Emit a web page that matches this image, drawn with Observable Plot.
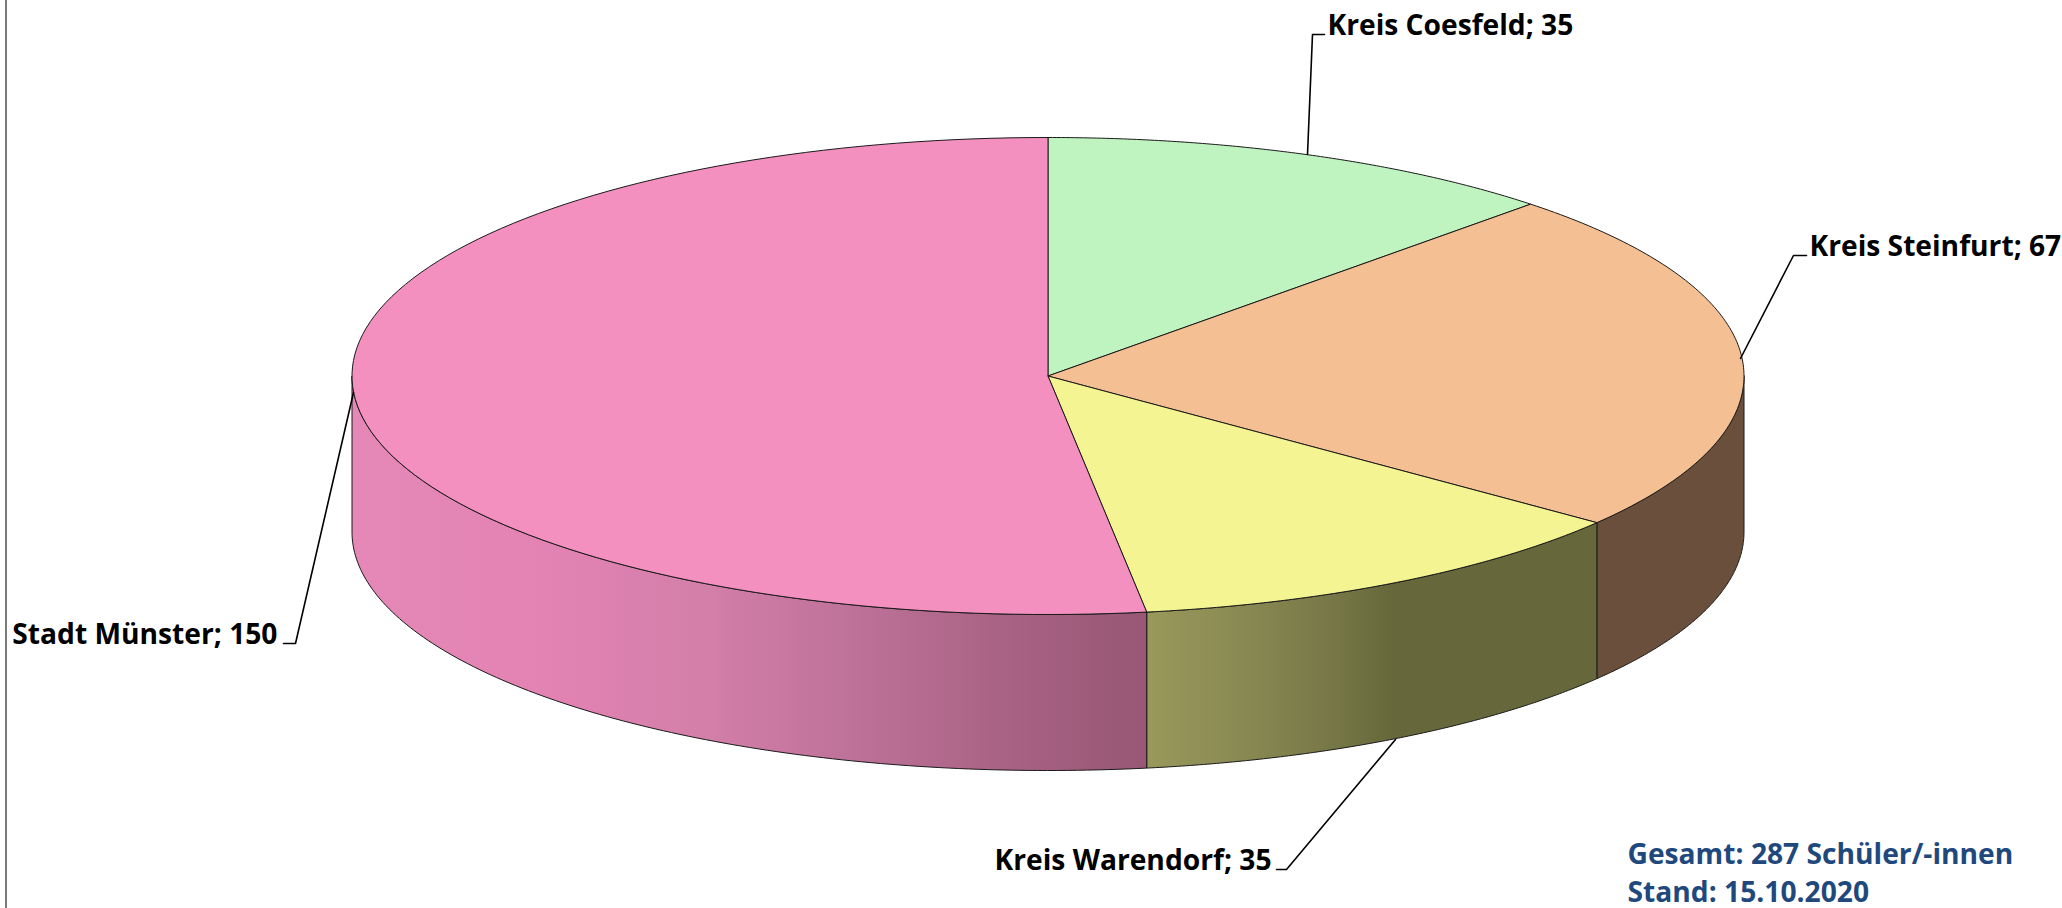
<!DOCTYPE html>
<html><head><meta charset="utf-8">
<script src="https://cdn.jsdelivr.net/npm/d3@7"></script>
<script src="https://cdn.jsdelivr.net/npm/@observablehq/plot@0.6"></script>
<style>html,body{margin:0;padding:0;background:#fff;overflow:hidden}svg{display:block}</style>
</head><body><div id="chart"></div>
<script>
const names = ["Kreis Coesfeld","Kreis Steinfurt","Kreis Warendorf","Stadt Münster"];
const values = [35,67,35,150];
const topColors = ["#bff4c0","#f4bf92","#f4f492","#f490bf"];
const sideStops = {
  "Kreis Steinfurt":[[0,"#6a503c"],[1,"#6a503c"]],
  "Kreis Warendorf":[[0,"#99995c"],[0.25,"#868651"],[0.45,"#737444"],[0.55,"#66673a"],[1,"#66673a"]],
  "Stadt Münster":[[0,"#e588b7"],[0.2,"#e384b4"],[0.3,"#df81b1"],[0.45,"#d27fa9"],[0.62,"#bf729a"],[0.8,"#ab6486"],[1,"#975775"]]
};
// geometry of the drawing
const cx=1047.5, cy=375.5, rx=696, ry=238.5, depth=156;
const total=d3.sum(values);
const pt=(t,dz=0)=>({x:cx+rx*Math.sin(t),y:cy-ry*Math.cos(t)+dz});
let acc=0;
const slices=names.map((n,i)=>{const a0=acc/total*2*Math.PI;acc+=values[i];const a1=acc/total*2*Math.PI;return {name:n,value:values[i],a0,a1,color:topColors[i]};});
const arc=(a0,a1,dz=0)=>d3.range(0,121).map(k=>pt(a0+(a1-a0)*k/120,dz));
const wedge=s=>[{x:cx,y:cy},...arc(s.a0,s.a1),{x:cx,y:cy}];
const side=s=>{const a0=Math.max(s.a0,Math.PI/2),a1=Math.min(s.a1,3*Math.PI/2);
  return a1>a0?[...arc(a0,a1),...arc(a0,a1,depth).reverse(),pt(a0)]:null;};
const leaders=[
 {name:"Kreis Coesfeld",pts:[[1307,154],[1312,34],[1324,34]],text:"Kreis Coesfeld; 35",lx:1327,ly:34,anchor:"start"},
 {name:"Kreis Steinfurt",pts:[[1740,358],[1793,255],[1806,255]],text:"Kreis Steinfurt; 67",lx:1809,ly:255,anchor:"start"},
 {name:"Kreis Warendorf",pts:[[1395,739],[1286,869],[1276,869]],text:"Kreis Warendorf; 35",lx:1271,ly:869,anchor:"end"},
 {name:"Stadt Münster",pts:[[353,392],[295,643],[283,643]],text:"Stadt Münster; 150",lx:277,ly:643,anchor:"end"}
];
const notes=[{t:"Gesamt: 287 Schüler/-innen",x:1627,y:863},{t:"Stand: 15.10.2020",x:1627,y:901}];
const defs=()=>{
  const svg=d3.create("svg:defs");
  Object.entries(sideStops).forEach(([n,st],i)=>{
    const g=svg.append("linearGradient").attr("id","grad"+i);
    st.forEach(([o,c])=>g.append("stop").attr("offset",o).attr("stop-color",c));
  });
  return svg.node();
};
const gradId=n=>"url(#grad"+Object.keys(sideStops).indexOf(n)+")";
const edge="#1a1a1a";
const font={fontSize:28.2,fontWeight:700,fontFamily:"'Open Sans'",lineAnchor:"bottom",dy:0};
const marks=[
  defs,
  Plot.ruleX([5.5],{stroke:"#222",strokeWidth:1.2}),
  ...slices.map(side).map((p,i)=>p?Plot.line(p,{x:"x",y:"y",fill:gradId(names[i]),stroke:edge,strokeWidth:1,curve:"linear"}):null).filter(Boolean),
  ...slices.map(s=>Plot.line(wedge(s),{x:"x",y:"y",fill:s.color,stroke:edge,strokeWidth:1,curve:"linear"})),
  ...leaders.map(l=>Plot.line(l.pts,{x:d=>d[0],y:d=>d[1],stroke:"#000",strokeWidth:1.6,curve:"linear"})),
  Plot.text(leaders.filter(l=>l.anchor==="start"),{x:"lx",y:"ly",text:"text",textAnchor:"start",fill:"#000",...font}),
  Plot.text(leaders.filter(l=>l.anchor==="end"),{x:"lx",y:"ly",text:"text",textAnchor:"end",fill:"#000",...font}),
  Plot.text(notes,{x:"x",y:"y",text:"t",textAnchor:"start",fill:"#1f497d",...font})
];
const chart=Plot.plot({width:2062,height:908,margin:0,
  x:{domain:[0,2062],range:[0,2062],axis:null},
  y:{domain:[0,908],range:[0,908],axis:null},
  style:{background:"#fff"},
  marks});
document.getElementById("chart").append(chart);
</script></body></html>
